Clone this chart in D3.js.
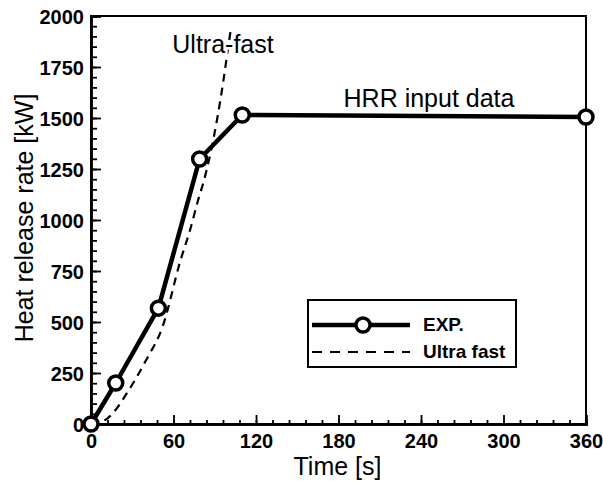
<!DOCTYPE html>
<html>
<head>
<meta charset="utf-8">
<script src="https://cdn.jsdelivr.net/npm/d3@7"></script>
<style>
  body { margin: 0; background: #fff; }
  text { font-family: "Liberation Sans", Arial, sans-serif; fill: #000; }
</style>
</head>
<body>
<svg id="plot"></svg>
<script>
// data
const expTime = [0, 18, 49, 79, 110, 360];
const expHRR = [0, 201, 568, 1299, 1515, 1505];
const ultraTime = [0, 10, 16, 26, 40, 52, 65, 72, 78, 82, 92, 96, 99, 102];
const ultraHRR = [0, 18, 54, 150, 312, 476, 800, 950, 1100, 1190, 1505, 1670, 1810, 1950];
const xTicks = [0, 60, 120, 180, 240, 300, 360];
const yTicks = [0, 250, 500, 750, 1000, 1250, 1500, 1750, 2000];

const svg = d3.select("#plot")
    .attr("width", 603)
    .attr("height", 482);
const margin = { top: 16, right: 17, bottom: 58, left: 91 };
const width = 603 - margin.left - margin.right;
const height = 482 - margin.top - margin.bottom;

const x = d3.scaleLinear().domain([0, 360]).range([0, width]);
const y = d3.scaleLinear().domain([0, 2000]).range([height, 0]);

const g = svg.append("g")
    .attr("transform", `translate(${margin.left}, ${margin.top})`);

// frame
g.append("rect")
    .attr("width", width)
    .attr("height", height)
    .attr("fill", "none")
    .attr("stroke", "#000")
    .attr("stroke-width", 2);

// minor ticks (inward)
const xAxisMinor = d3.axisBottom(x).tickValues(d3.range(0, 361, 12)).tickSize(-4).tickFormat("");
const yAxisMinor = d3.axisLeft(y).tickValues(d3.range(0, 2001, 50)).tickSize(-6).tickFormat("");
g.append("g").attr("transform", `translate(0, ${height})`).call(xAxisMinor);
g.append("g").call(yAxisMinor);

// major ticks
const xAxis = d3.axisBottom(x).tickValues(xTicks).tickSize(-9).tickPadding(10).tickFormat(d3.format("d"));
const yAxis = d3.axisLeft(y).tickValues(yTicks).tickSize(-10).tickPadding(7).tickFormat(d3.format("d"));
g.append("g").attr("class", "x-axis").attr("transform", `translate(0, ${height})`).call(xAxis);
g.append("g").attr("class", "y-axis").call(yAxis);

g.selectAll(".tick line").attr("stroke", "#000").attr("stroke-width", 1.8);
g.selectAll(".domain").attr("stroke", "#000").attr("stroke-width", 2.5);
g.selectAll(".x-axis .tick text, .y-axis .tick text")
    .style("font-family", "'Liberation Sans', Arial, sans-serif")
    .style("font-size", "20px")
    .style("font-weight", "bold")
    .attr("fill", "#000");
g.selectAll(".y-axis .tick text").attr("x", -7).attr("dy", "0.36em");
g.selectAll(".x-axis .tick text").attr("dy", "0.72em");

// ultra-fast curve (dashed)
const ultraData = ultraTime.map((t, i) => [t, ultraHRR[i]]);
const expData = expTime.map((t, i) => [t, expHRR[i]]);

const curveLine = d3.line()
    .x(d => x(d[0]))
    .y(d => y(d[1]))
    .curve(d3.curveMonotoneX);
const straightLine = d3.line()
    .x(d => x(d[0]))
    .y(d => y(d[1]));

g.append("path")
    .datum(ultraData)
    .attr("d", curveLine)
    .attr("fill", "none")
    .attr("stroke", "#000")
    .attr("stroke-width", 2.2)
    .attr("stroke-dasharray", "8,6");

// experiment line + markers
g.append("path")
    .datum(expData)
    .attr("d", straightLine)
    .attr("fill", "none")
    .attr("stroke", "#000")
    .attr("stroke-width", 4.5)
    .attr("stroke-linejoin", "round");

g.selectAll(".dot")
    .data(expData)
    .enter().append("circle")
    .attr("class", "dot")
    .attr("cx", d => x(d[0]))
    .attr("cy", d => y(d[1]))
    .attr("r", 7)
    .attr("fill", "#fff")
    .attr("stroke", "#000")
    .attr("stroke-width", 3.5);

// annotations
g.append("text")
    .attr("x", 132)
    .attr("y", 37)
    .attr("text-anchor", "middle")
    .style("font-size", "25px")
    .style("paint-order", "stroke")
    .attr("stroke", "#fff")
    .attr("stroke-width", 5)
    .text("Ultra-fast");

g.append("text")
    .attr("x", 338)
    .attr("y", 91)
    .attr("text-anchor", "middle")
    .style("font-size", "25px")
    .text("HRR input data");

// legend
const legend = svg.append("g").attr("transform", "translate(308, 300)");
legend.append("rect")
    .attr("width", 208)
    .attr("height", 67)
    .attr("fill", "#fff")
    .attr("stroke", "#000")
    .attr("stroke-width", 2);
legend.append("line")
    .attr("x1", 4).attr("x2", 102)
    .attr("y1", 25).attr("y2", 25)
    .attr("stroke", "#000")
    .attr("stroke-width", 4.5);
legend.append("circle")
    .attr("cx", 55).attr("cy", 25).attr("r", 7)
    .attr("fill", "#fff")
    .attr("stroke", "#000")
    .attr("stroke-width", 3.5);
legend.append("line")
    .attr("x1", 4).attr("x2", 102)
    .attr("y1", 52).attr("y2", 52)
    .attr("stroke", "#000")
    .attr("stroke-width", 2.2)
    .attr("stroke-dasharray", "10,8");
legend.append("text")
    .attr("x", 115).attr("y", 31)
    .style("font-size", "19px")
    .style("font-weight", "bold")
    .text("EXP.");
legend.append("text")
    .attr("x", 115).attr("y", 58)
    .style("font-size", "19px")
    .style("font-weight", "bold")
    .text("Ultra fast");

// axis titles
svg.append("text")
    .attr("x", margin.left + width / 2 - 1)
    .attr("y", 475)
    .attr("text-anchor", "middle")
    .style("font-size", "25px")
    .text("Time [s]");

svg.append("text")
    .attr("transform", "translate(33, 218) rotate(-90)")
    .attr("text-anchor", "middle")
    .style("font-size", "25px")
    .text("Heat release rate [kW]");
</script>
</body>
</html>
